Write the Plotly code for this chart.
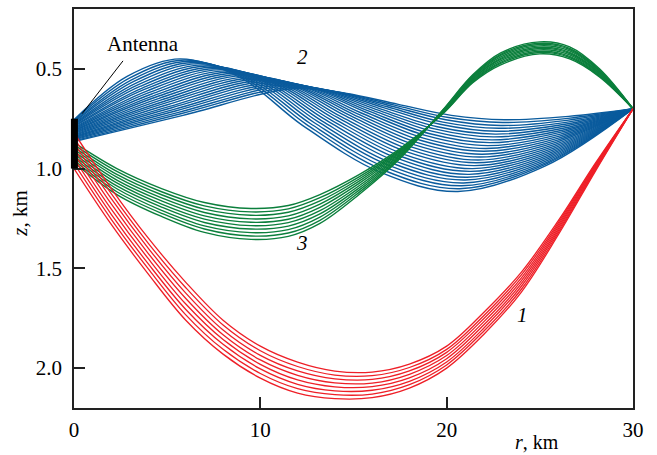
import plotly.graph_objects as go

# ---------------- data ----------------
x_tickvals = [0, 10, 20, 30]
x_ticktext = ["0", "10", "20", "30"]
y_tickvals = [0.5, 1.0, 1.5, 2.0]
y_ticktext = ["0.5", "1.0", "1.5", "2.0"]

receiver_r = 30.0
receiver_z = 0.70
antenna_z = [0.75, 1.0]

# family 1 (red): z (km) at r = red_r (km), one row per ray
red_r = [0, 2, 4, 6, 8, 10, 12, 14, 16, 18, 20, 22, 24, 26, 28, 30]
red_z = [
    [0.820, 1.100, 1.350, 1.570, 1.760, 1.890, 1.970, 2.015, 2.020, 1.980, 1.890, 1.720, 1.520, 1.260, 0.970, 0.700],
    [0.846, 1.126, 1.376, 1.597, 1.784, 1.913, 1.992, 2.035, 2.038, 1.997, 1.906, 1.736, 1.534, 1.270, 0.976, 0.700],
    [0.871, 1.151, 1.401, 1.624, 1.809, 1.936, 2.014, 2.054, 2.057, 2.014, 1.921, 1.751, 1.549, 1.280, 0.981, 0.700],
    [0.897, 1.177, 1.427, 1.651, 1.833, 1.959, 2.036, 2.074, 2.075, 2.031, 1.937, 1.767, 1.563, 1.290, 0.987, 0.700],
    [0.923, 1.203, 1.453, 1.679, 1.857, 1.981, 2.059, 2.094, 2.093, 2.049, 1.953, 1.783, 1.577, 1.300, 0.993, 0.700],
    [0.949, 1.229, 1.479, 1.706, 1.881, 2.004, 2.081, 2.114, 2.111, 2.066, 1.969, 1.799, 1.591, 1.310, 0.999, 0.700],
    [0.974, 1.254, 1.504, 1.733, 1.906, 2.027, 2.103, 2.133, 2.130, 2.083, 1.984, 1.814, 1.606, 1.320, 1.004, 0.700],
    [1.000, 1.280, 1.530, 1.760, 1.930, 2.050, 2.125, 2.153, 2.148, 2.100, 2.000, 1.830, 1.620, 1.330, 1.010, 0.700],
]

# family 3 (green)
green_r = [0, 2.3, 4.7, 7.0, 9.5, 11.5, 13.2, 15.3, 17.5, 19.8, 21.4, 22.9, 25.0, 26.6, 28.2, 30.0]
green_z = [
    [0.870, 1.000, 1.100, 1.170, 1.200, 1.185, 1.130, 1.030, 0.900, 0.725, 0.570, 0.480, 0.425, 0.450, 0.540, 0.700],
    [0.881, 1.014, 1.116, 1.187, 1.217, 1.202, 1.146, 1.041, 0.906, 0.723, 0.566, 0.473, 0.418, 0.443, 0.536, 0.700],
    [0.892, 1.029, 1.131, 1.203, 1.234, 1.219, 1.162, 1.052, 0.911, 0.721, 0.561, 0.467, 0.412, 0.437, 0.531, 0.700],
    [0.903, 1.043, 1.147, 1.220, 1.252, 1.237, 1.178, 1.063, 0.917, 0.718, 0.557, 0.460, 0.405, 0.430, 0.527, 0.700],
    [0.914, 1.058, 1.162, 1.237, 1.269, 1.254, 1.194, 1.074, 0.922, 0.716, 0.552, 0.453, 0.398, 0.423, 0.522, 0.700],
    [0.926, 1.072, 1.178, 1.253, 1.286, 1.271, 1.211, 1.086, 0.928, 0.714, 0.548, 0.447, 0.392, 0.417, 0.518, 0.700],
    [0.937, 1.087, 1.193, 1.270, 1.303, 1.288, 1.227, 1.097, 0.933, 0.712, 0.543, 0.440, 0.385, 0.410, 0.513, 0.700],
    [0.948, 1.101, 1.209, 1.287, 1.321, 1.306, 1.243, 1.108, 0.939, 0.709, 0.539, 0.433, 0.378, 0.403, 0.509, 0.700],
    [0.959, 1.116, 1.224, 1.303, 1.338, 1.323, 1.259, 1.119, 0.944, 0.707, 0.534, 0.427, 0.372, 0.397, 0.504, 0.700],
    [0.970, 1.130, 1.240, 1.320, 1.355, 1.340, 1.275, 1.130, 0.950, 0.705, 0.530, 0.420, 0.365, 0.390, 0.500, 0.700],
]

# family 2 (blue): characteristic points of each ray (r, z)
blue_start_z = [0.755, 0.759, 0.764, 0.768, 0.773, 0.777, 0.781, 0.786, 0.790, 0.795, 0.799, 0.803, 0.808,
                0.812, 0.817, 0.821, 0.825, 0.830, 0.834, 0.839, 0.843, 0.847, 0.852, 0.856, 0.861, 0.865]
blue_rise_r = [2.85, 2.97, 3.09, 3.21, 3.33, 3.45, 3.57, 3.69, 3.81, 3.93, 4.05, 4.17, 4.29,
               4.41, 4.53, 4.65, 4.77, 4.89, 5.01, 5.13, 5.25, 5.37, 5.49, 5.61, 5.73, 5.85]
blue_rise_z = [0.538, 0.547, 0.555, 0.563, 0.571, 0.579, 0.587, 0.595, 0.602, 0.610, 0.618, 0.626, 0.634,
               0.641, 0.649, 0.657, 0.665, 0.672, 0.680, 0.688, 0.695, 0.703, 0.710, 0.718, 0.725, 0.733]
blue_peak_r = [5.70, 5.94, 6.18, 6.42, 6.66, 6.90, 7.14, 7.38, 7.62, 7.86, 8.10, 8.34, 8.58,
               8.82, 9.06, 9.30, 9.54, 9.78, 10.02, 10.26, 10.50, 10.74, 10.98, 11.22, 11.46, 11.70]
blue_peak_z = [0.450, 0.456, 0.462, 0.468, 0.474, 0.480, 0.486, 0.492, 0.498, 0.504, 0.510, 0.516, 0.522,
               0.528, 0.534, 0.540, 0.546, 0.552, 0.558, 0.564, 0.570, 0.576, 0.582, 0.588, 0.594, 0.600]
blue_q1_r = [8.98, 9.21, 9.43, 9.66, 9.88, 10.11, 10.33, 10.56, 10.78, 11.01, 11.23, 11.46, 11.68,
             11.90, 12.12, 12.35, 12.57, 12.79, 13.01, 13.23, 13.45, 13.67, 13.89, 14.11, 14.33, 14.55]
blue_q1_z = [0.547, 0.550, 0.553, 0.556, 0.559, 0.562, 0.565, 0.568, 0.571, 0.574, 0.577, 0.580, 0.583,
             0.586, 0.589, 0.592, 0.595, 0.598, 0.601, 0.604, 0.607, 0.610, 0.613, 0.616, 0.619, 0.622]
blue_mid_r = [12.26, 12.47, 12.68, 12.90, 13.11, 13.32, 13.53, 13.74, 13.95, 14.16, 14.36, 14.57, 14.78,
              14.98, 15.19, 15.39, 15.60, 15.80, 16.00, 16.20, 16.40, 16.61, 16.81, 17.00, 17.20, 17.40]
blue_mid_z = [0.783, 0.778, 0.774, 0.770, 0.766, 0.762, 0.757, 0.753, 0.749, 0.745, 0.741, 0.736, 0.732,
              0.728, 0.724, 0.720, 0.715, 0.711, 0.707, 0.703, 0.699, 0.694, 0.690, 0.686, 0.682, 0.678]
blue_q3_r = [16.43, 16.59, 16.74, 16.90, 17.05, 17.21, 17.36, 17.52, 17.67, 17.83, 17.98, 18.14, 18.29,
             18.44, 18.59, 18.75, 18.90, 19.05, 19.20, 19.35, 19.50, 19.65, 19.80, 19.95, 20.10, 20.25]
blue_q3_z = [1.018, 1.007, 0.995, 0.984, 0.972, 0.961, 0.949, 0.938, 0.927, 0.915, 0.904, 0.892, 0.881,
             0.870, 0.858, 0.847, 0.835, 0.824, 0.812, 0.801, 0.790, 0.778, 0.767, 0.755, 0.744, 0.733]
blue_trough_r = [20.6, 20.7, 20.8, 20.9, 21.0, 21.1, 21.2, 21.3, 21.4, 21.5, 21.6, 21.7, 21.8,
                 21.9, 22.0, 22.1, 22.2, 22.3, 22.4, 22.5, 22.6, 22.7, 22.8, 22.9, 23.0, 23.1]
blue_trough_z = [1.115, 1.101, 1.086, 1.072, 1.057, 1.043, 1.029, 1.014, 1.000, 0.985, 0.971, 0.957, 0.942,
                 0.928, 0.913, 0.899, 0.885, 0.870, 0.856, 0.841, 0.827, 0.813, 0.798, 0.784, 0.769, 0.755]
blue_post_r = [25.30, 25.35, 25.40, 25.45, 25.50, 25.55, 25.60, 25.65, 25.70, 25.75, 25.80, 25.85, 25.90,
               25.95, 26.00, 26.05, 26.10, 26.15, 26.20, 26.25, 26.30, 26.35, 26.40, 26.45, 26.50, 26.55]
blue_post_z = [0.986, 0.976, 0.967, 0.957, 0.947, 0.937, 0.927, 0.917, 0.907, 0.897, 0.887, 0.877, 0.867,
               0.857, 0.847, 0.837, 0.827, 0.817, 0.808, 0.798, 0.788, 0.778, 0.768, 0.758, 0.748, 0.738]

# ---------------- styles ----------------
RED = "#EE1F27"
GREEN = "#0B7F3C"
BLUE = "#0A5B9D"
FONT = "Liberation Serif, Times New Roman, serif"

fig = go.Figure()

# blue rays (family 2)
for i in range(len(blue_start_z)):
    xs = [0, blue_rise_r[i], blue_peak_r[i], blue_q1_r[i], blue_mid_r[i], blue_q3_r[i],
          blue_trough_r[i], blue_post_r[i], receiver_r]
    ys = [blue_start_z[i], blue_rise_z[i], blue_peak_z[i], blue_q1_z[i], blue_mid_z[i], blue_q3_z[i],
          blue_trough_z[i], blue_post_z[i], receiver_z]
    fig.add_trace(go.Scatter(x=xs, y=ys, mode="lines",
                             line=dict(color=BLUE, width=1.4, shape="spline", smoothing=1.0),
                             hoverinfo="skip", showlegend=False))

# green rays (family 3)
for row in green_z:
    fig.add_trace(go.Scatter(x=green_r, y=row, mode="lines",
                             line=dict(color=GREEN, width=1.4, shape="spline", smoothing=1.0),
                             hoverinfo="skip", showlegend=False))

# red rays (family 1)
for row in red_z:
    fig.add_trace(go.Scatter(x=red_r, y=row, mode="lines",
                             line=dict(color=RED, width=1.3, shape="spline", smoothing=1.0),
                             hoverinfo="skip", showlegend=False))

axis_common = dict(
    showgrid=False, zeroline=False, showline=True, linecolor="#222222", linewidth=1.5,
    mirror=True, ticks="inside", ticklen=11, tickwidth=1.5, tickcolor="#222222",
    tickfont=dict(family=FONT, size=21, color="black"),
)

fig.update_xaxes(range=[0, 30], tickvals=x_tickvals, ticktext=x_ticktext,
                 ticklabelstandoff=2, **axis_common)
fig.update_yaxes(range=[2.2, 0.2], tickvals=y_tickvals, ticktext=y_ticktext,
                 ticklabelstandoff=6, **axis_common)

# antenna bar and its leader line
fig.add_shape(type="rect", xref="paper", yref="y", x0=-0.0055, x1=0.0070,
              y0=antenna_z[0], y1=antenna_z[1], fillcolor="black", line=dict(width=0),
              layer="above")
fig.add_shape(type="line", xref="x", yref="y", x0=0.43, y0=0.725, x1=2.63, y1=0.46,
              line=dict(color="black", width=1))

txt = dict(family=FONT, size=21, color="black")
fig.add_annotation(x=3.70, y=0.375, text="Antenna", showarrow=False, font=txt)
fig.add_annotation(x=12.24, y=0.44, text="<i>2</i>", showarrow=False, font=txt)
fig.add_annotation(x=12.24, y=1.375, text="<i>3</i>", showarrow=False, font=txt)
fig.add_annotation(x=24.05, y=1.735, text="<i>1</i>", showarrow=False, font=txt)
fig.add_annotation(xref="paper", yref="paper", x=0.828, y=-0.115, xanchor="center",
                   yanchor="bottom", borderpad=0, text="<i>r</i>, km", showarrow=False,
                   font=dict(family=FONT, size=20, color="black"))
fig.add_annotation(xref="paper", yref="paper", x=-0.097, y=0.489, xanchor="center",
                   yanchor="middle", text="<i>z</i>, km", textangle=-90, showarrow=False, font=txt)

fig.update_layout(
    width=657, height=455,
    margin=dict(l=74, r=24, t=7, b=47),
    paper_bgcolor="white", plot_bgcolor="white",
    showlegend=False,
)

fig.write_html("out.html")
